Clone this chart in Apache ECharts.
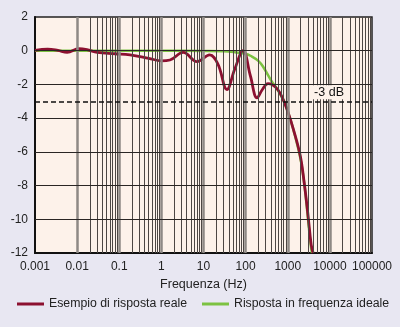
<!DOCTYPE html>
<html><head><meta charset="utf-8">
<script src="https://cdn.jsdelivr.net/npm/echarts@6/dist/echarts.min.js"></script>
<style>html,body{margin:0;padding:0;background:#e8e7f2;}#c{width:400px;height:327px;}</style>
</head><body><div id="c"></div>
<script>
var xTickLabels = ['0.001','0.01','0.1','1','10','100','1000','10000','100000'];
var yTicks = [2,0,-2,-4,-6,-8,-10,-12];
var seriesNames = ['Esempio di risposta reale','Risposta in frequenza ideale'];

var realFreq = [0.001,0.002,0.0035,0.0058,0.011,0.018,0.03,0.08,0.18,0.5,1.0,1.6,3.3,7.0,14,22,36,55,87,130,187,250,340,420,590,780,1000,1340,1970,2450,2980,3600,4000];
var realGain = [0.02,0.1,0.02,-0.1,0.12,0.05,-0.1,-0.18,-0.25,-0.45,-0.6,-0.55,-0.1,-0.65,-0.25,-0.8,-2.3,-1.1,0.0,-1.5,-2.8,-2.3,-1.95,-2.0,-2.33,-2.9,-3.6,-4.6,-6.2,-7.8,-9.6,-11.5,-12];

var idealFreq = [0.001,1,10,30,60,100,130,200,260,420,520,600,800,1000,1400,2000,2500,3000,3500,3750];
var idealGain = [0,0,-0.01,-0.03,-0.1,-0.18,-0.3,-0.6,-0.95,-1.84,-2.15,-2.4,-2.95,-3.6,-4.8,-6.4,-8.0,-9.9,-11.5,-12];

var refLevel = -3;

function pairs(a,b){return a.map(function(v,i){return [v,b[i]];});}

var gridLines = [];
for (var d = -3; d <= 5; d++) {
  for (var m = 1; m <= 9; m++) {
    if (d === 5 && m > 1) break;
    var f = m * Math.pow(10, d);
    if (m === 1 && (d === -3 || d === 5)) continue;
    gridLines.push({
      xAxis: f,
      lineStyle: m === 1 ? {color:'#8e8985', width:2.5, type:'solid'} : {color:'#4d4744', width:1, type:'solid'}
    });
  }
}
yTicks.forEach(function(v){
  if (v !== 2 && v !== -12) gridLines.push({yAxis: v, lineStyle:{color:'#2a2624', width:1.2, type:'solid'}});
});
gridLines.push({
  yAxis: refLevel,
  lineStyle: {color:'#111', width:1.5, type:[5,3]},
  label: {show:true, formatter:'-3 dB', position:'insideEndTop', distance:[26,2],
    color:'#111', fontSize:12.5, fontFamily:'Liberation Sans, Arial, sans-serif',
    backgroundColor:'#fdf2ea', padding:[1,2,0,2]}
});

var font = 'Liberation Sans, Arial, sans-serif';
var chart = echarts.init(document.getElementById('c'), null, {renderer:'canvas'});
chart.setOption({
  animation:false,
  backgroundColor:'#e8e7f2',
  grid:{left:35, right:28, top:17, bottom:74, outerBoundsMode:'none', containLabel:false, show:true, backgroundColor:'#fdf2ea', borderColor:'#222', borderWidth:1.5},
  legend:[
    {data:[seriesNames[0]], left:12, top:293, itemWidth:27, itemHeight:3, icon:'rect', itemGap:10,
     textStyle:{fontSize:12.3, color:'#222', fontFamily:font}},
    {data:[seriesNames[1]], left:197, top:293, itemWidth:27, itemHeight:3, icon:'rect',
     textStyle:{fontSize:12.3, color:'#222', fontFamily:font}}
  ],
  xAxis:{
    type:'log', logBase:10, min:0.001, max:100000,
    name:'Frequenza (Hz)', nameLocation:'middle', nameGap:25,
    nameTextStyle:{fontSize:12.5, color:'#222', fontFamily:font},
    axisLine:{show:true, onZero:false, lineStyle:{color:'#111', width:2}},
    axisTick:{show:false},
    splitLine:{show:false},
    axisLabel:{fontSize:12, color:'#222', fontFamily:font, margin:8,
      formatter:function(v){var i=Math.round(Math.log10(v))+3; return xTickLabels[i]!==undefined?xTickLabels[i]:'';}}
  },
  yAxis:{
    type:'value', min:-12, max:2, interval:2,
    name:'Guadagno (dB)', nameLocation:'middle', nameGap:25,
    nameTextStyle:{fontSize:12.5, color:'#222', fontFamily:font},
    axisLine:{show:true, lineStyle:{color:'#111', width:2}},
    axisTick:{show:false},
    splitLine:{show:false},
    axisLabel:{fontSize:12, color:'#222', fontFamily:font, margin:7}
  },
  series:[
    {type:'line', name:'grid', data:[], z:1, silent:true,
     markLine:{silent:true, symbol:['none','none'], label:{show:false}, data:gridLines, animation:false}},
    {type:'line', name:seriesNames[1], data:pairs(idealFreq, idealGain), smooth:0.4, showSymbol:false, z:3,
     itemStyle:{color:'#7cc242'}, lineStyle:{color:'#7cc242', width:2.5}},
    {type:'line', name:seriesNames[0], data:pairs(realFreq, realGain), smooth:0.4, showSymbol:false, z:4,
     itemStyle:{color:'#8c1030'}, lineStyle:{color:'#8c1030', width:2.8}}
  ]
});
</script></body></html>
